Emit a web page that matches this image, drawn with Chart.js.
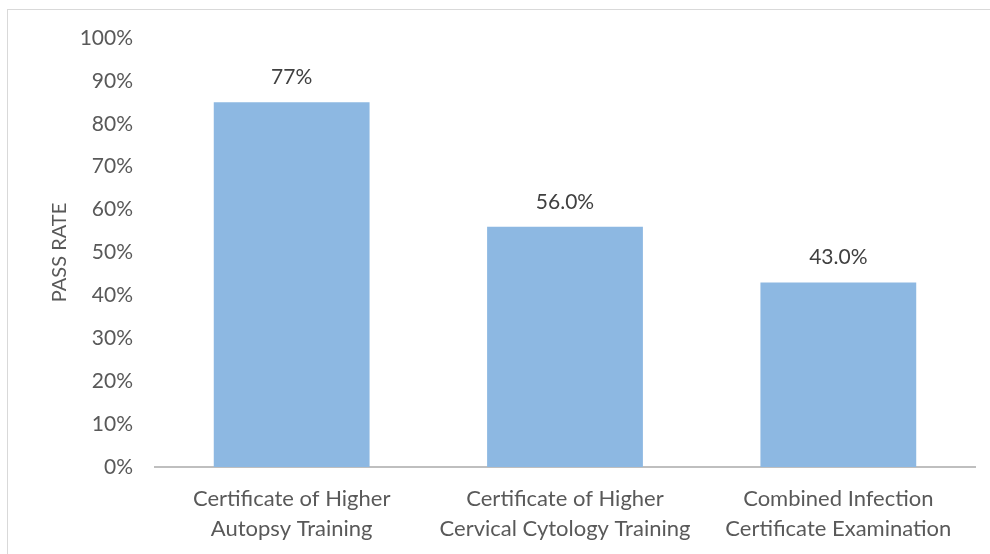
<!DOCTYPE html>
<html>
<head>
<meta charset="utf-8">
<script src="https://cdn.jsdelivr.net/npm/chart.js@4/dist/chart.umd.min.js"></script>
<style>
  html, body { margin: 0; padding: 0; background: #fff; }
  #wrap { width: 990px; height: 554px; position: relative; }
</style>
</head>
<body>
<div id="wrap"><canvas id="c" width="990" height="554"></canvas></div>
<script>
const categories = [
  ["Certificate of Higher", "Autopsy Training"],
  ["Certificate of Higher", "Cervical Cytology Training"],
  ["Combined Infection", "Certificate Examination"]
];
const passRates = [85, 56, 43];
const valueLabels = ["77%", "56.0%", "43.0%"];
const yTicks = [0, 10, 20, 30, 40, 50, 60, 70, 80, 90, 100];

const FONT = "Lato, 'Open Sans', sans-serif";

const frame = {
  id: 'frame',
  beforeDraw(chart) {
    const ctx = chart.ctx;
    ctx.save();
    ctx.fillStyle = '#fff';
    ctx.fillRect(0, 0, chart.width, chart.height);
    ctx.strokeStyle = '#d9d9d9';
    ctx.lineWidth = 1;
    ctx.strokeRect(7.5, 9.5, chart.width, chart.height);
    ctx.restore();
  }
};

const valueLabelPlugin = {
  id: 'valueLabels',
  afterDatasetsDraw(chart) {
    const ctx = chart.ctx;
    const meta = chart.getDatasetMeta(0);
    ctx.save();
    ctx.font = '21px ' + FONT;
    ctx.fillStyle = '#404040';
    ctx.textAlign = 'center';
    ctx.textBaseline = 'middle';
    meta.data.forEach((bar, i) => {
      ctx.fillText(valueLabels[i], bar.x, bar.y - 25);
    });
    ctx.restore();
  }
};

new Chart(document.getElementById('c'), {
  type: 'bar',
  data: {
    labels: categories,
    datasets: [{
      data: passRates,
      backgroundColor: '#8db8e2',
      borderWidth: 0,
      categoryPercentage: 1,
      barPercentage: 0.57
    }]
  },
  options: {
    responsive: false,
    animation: false,
    devicePixelRatio: 1,
    layout: { padding: { left: 48, top: 38, right: 15, bottom: 0 } },
    plugins: { legend: { display: false }, tooltip: { enabled: false } },
    scales: {
      x: {
        afterFit(scale) { scale.height = 554 - 467; },
        grid: { display: false },
        border: { display: true, color: '#bfbfbf', width: 2 },
        ticks: {
          color: '#595959',
          font: { family: FONT, size: 22, lineHeight: 1.36 },
          padding: 9,
          maxRotation: 0,
          autoSkip: false
        }
      },
      y: {
        min: 0,
        max: 100,
        afterBuildTicks(scale) { scale.ticks = yTicks.map(v => ({ value: v })); },
        afterFit(scale) { scale.width = 155 - 48; },
        grid: { display: false, drawTicks: false },
        border: { display: false },
        title: {
          display: true,
          text: 'PASS RATE',
          color: '#595959',
          font: { family: FONT, size: 20 },
          padding: 0
        },
        ticks: {
          color: '#595959',
          font: { family: FONT, size: 21 },
          padding: 22,
          callback: v => v + '%'
        }
      }
    }
  },
  plugins: [frame, valueLabelPlugin]
});
</script>
</body>
</html>
